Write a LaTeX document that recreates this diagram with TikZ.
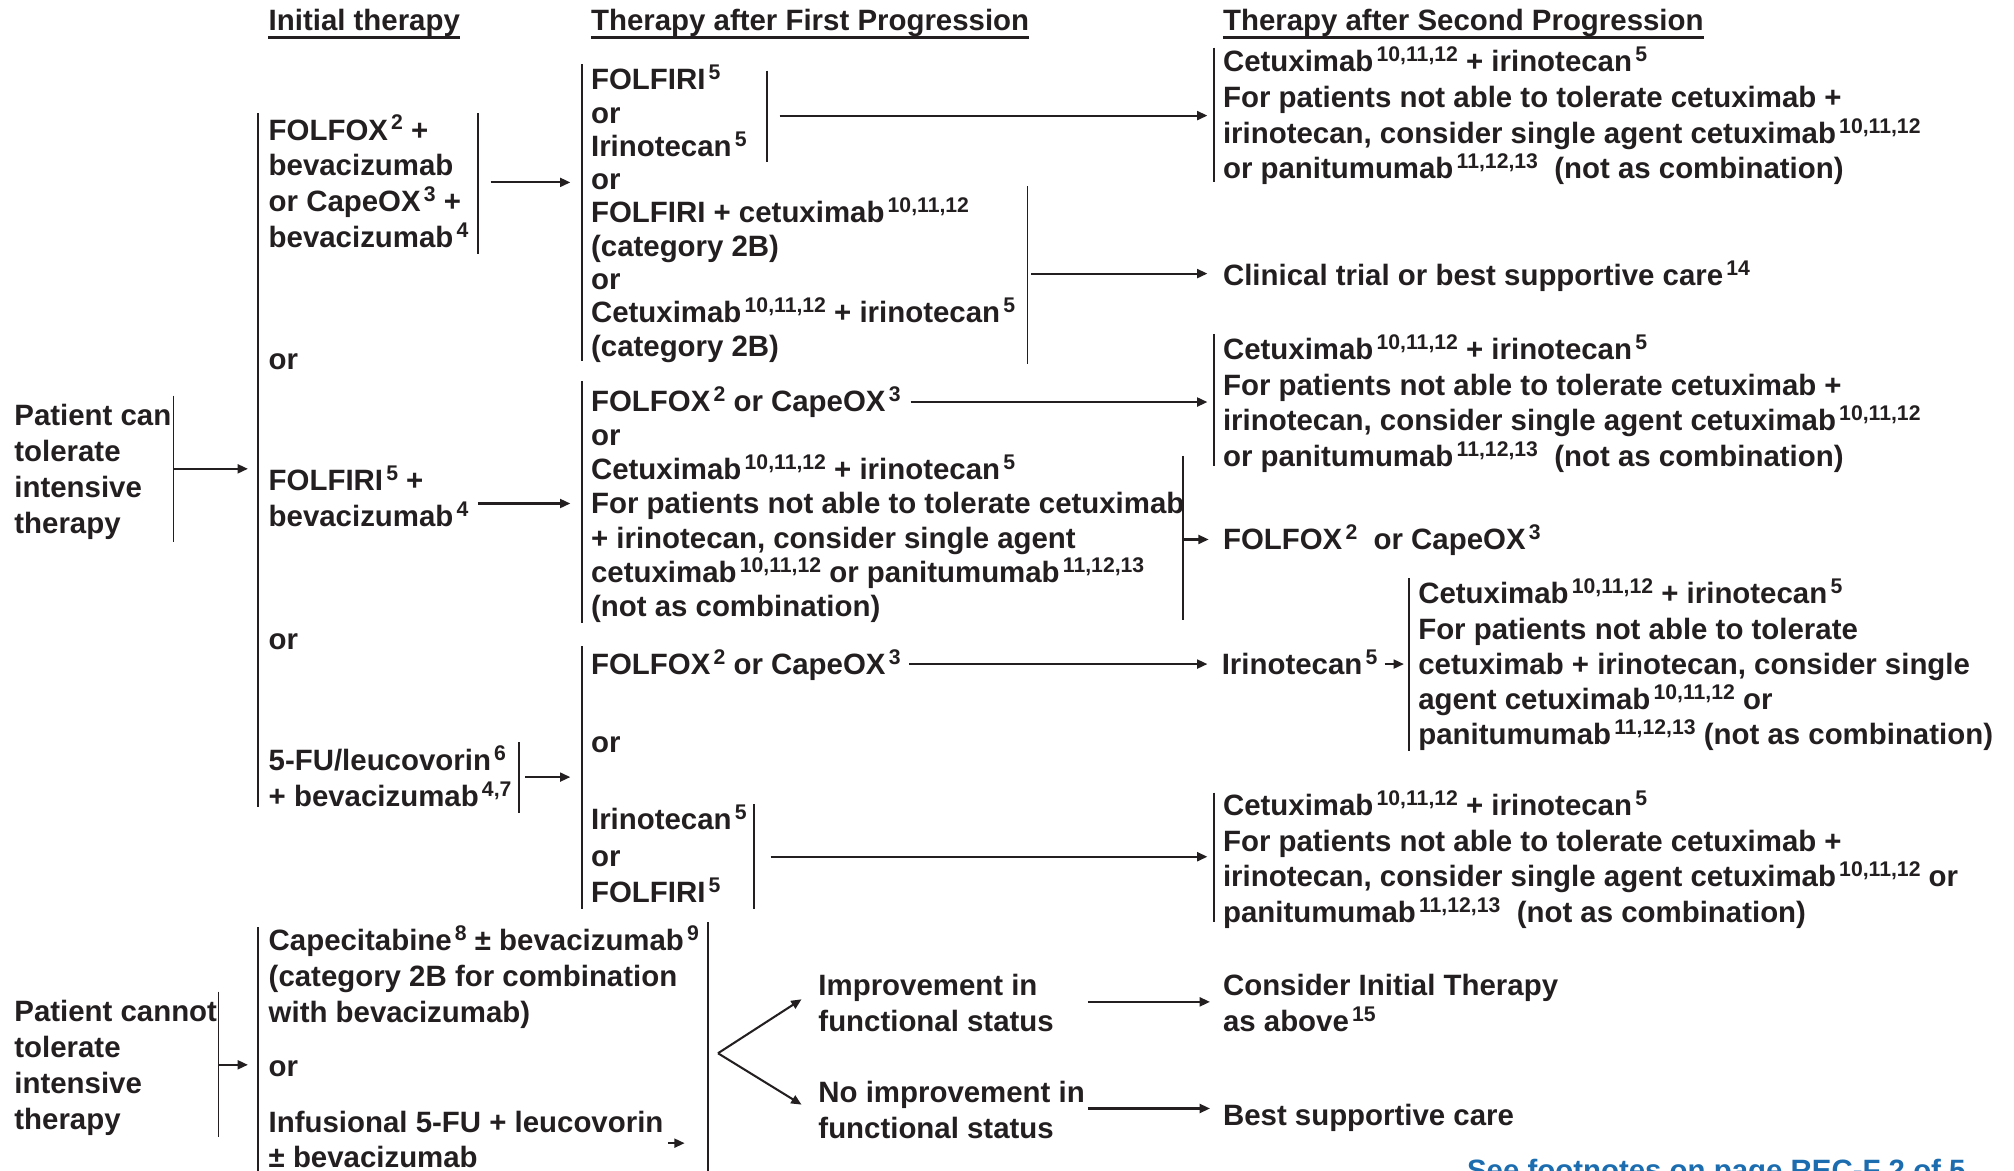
\documentclass[tikz,border=0pt]{standalone}
\usepackage{fontspec}
\setmainfont{Liberation Sans}
\usetikzlibrary{arrows.meta}
\definecolor{ink}{HTML}{231F20}
\definecolor{linkblue}{HTML}{1C6DB0}
% footnote reference numbers
\newcommand{\fn}[1]{\hspace{2.5pt}\raisebox{7.8pt}{\fontsize{16.5}{16.5}\selectfont #1}}
% multi-line nodes are placed by the baseline of their last line
\tikzset{
  txt/.style={anchor=base west, inner sep=0pt, align=left, text=ink,
              font=\bfseries\fontsize{22.9}{28}\selectfont},
  sk/.style={font=\bfseries\fontsize{22.9}{#1}\selectfont},
  bar/.style={draw=ink, line width=1.3pt},
  uline/.style={draw=ink, line width=1.6pt},
  arr/.style={draw=ink, line width=1.6pt, -{Triangle[length=8pt,width=7pt]}},
}
\begin{document}
\begin{tikzpicture}[x=1pt,y=-1pt]
\useasboundingbox (0,0) rectangle (1568,911);

% column headings
\node[txt] (h1) at (209,24) {Initial therapy};
\node[txt] (h2) at (460,24) {Therapy after First Progression};
\node[txt] (h3) at (952,24) {Therapy after Second Progression};
\foreach \h in {h1,h2,h3}
  \draw[uline] ([yshift=-5.2pt]\h.base west) -- ([yshift=-5.2pt]\h.base east);

% patient groups
\node[txt] (can) at (11,415) {Patient can\\tolerate\\intensive\\therapy};
\node[txt] (cannot) at (11,879) {Patient cannot\\tolerate\\intensive\\therapy};

% initial therapy
\node[txt] (i1) at (209,193) {FOLFOX\fn{2} +\\bevacizumab\\or CapeOX\fn{3} +\\bevacizumab\fn{4}};
\node[txt] (or1) at (209,288) {or};
\node[txt] (i2) at (209,410) {FOLFIRI\fn{5} +\\bevacizumab\fn{4}};
\node[txt] (or2) at (209,506) {or};
\node[txt] (i3) at (209,628) {5-FU/leucovorin\fn{6}\\+ bevacizumab\fn{4,7}};

\node[txt] (c1) at (209,796) {Capecitabine\fn{8} ± bevacizumab\fn{9}\\(category 2B for combination\\with bevacizumab)};
\node[txt] (or4) at (209,838) {or};
\node[txt,sk=27] (c2) at (209,909) {Infusional 5-FU + leucovorin\\± bevacizumab};

% therapy after first progression
\node[txt,sk=25.9] (p1) at (460,277.2) {FOLFIRI\fn{5}\\or\\Irinotecan\fn{5}\\or\\FOLFIRI + cetuximab\fn{10,11,12}\\(category 2B)\\or\\Cetuximab\fn{10,11,12} + irinotecan\fn{5}\\(category 2B)};
\node[txt,sk=26.7] (p2) at (460,480.2) {FOLFOX\fn{2} or CapeOX\fn{3}\\or\\Cetuximab\fn{10,11,12} + irinotecan\fn{5}\\For patients not able to tolerate cetuximab\\+ irinotecan, consider single agent\\cetuximab\fn{10,11,12} or panitumumab\fn{11,12,13}\\(not as combination)};
\node[txt] (p3) at (460,525) {FOLFOX\fn{2} or CapeOX\fn{3}};
\node[txt] (or3) at (460,586) {or};
\node[txt,sk=28.5] (p4) at (460,703) {Irinotecan\fn{5}\\or\\FOLFIRI\fn{5}};

\node[txt] (imp) at (637,803) {Improvement in\\functional status};
\node[txt] (noimp) at (637,886) {No improvement in\\functional status};

% therapy after second progression
\node[txt,sk=27.7] (s1) at (952,139.1) {Cetuximab\fn{10,11,12} + irinotecan\fn{5}\\For patients not able to tolerate cetuximab +\\irinotecan, consider single agent cetuximab\fn{10,11,12}\\or panitumumab\fn{11,12,13}\ \ (not as combination)};
\node[txt] (s2) at (952,222) {Clinical trial or best supportive care\fn{14}};
\node[txt,sk=27.7] (s3) at (952,363.1) {Cetuximab\fn{10,11,12} + irinotecan\fn{5}\\For patients not able to tolerate cetuximab +\\irinotecan, consider single agent cetuximab\fn{10,11,12}\\or panitumumab\fn{11,12,13}\ \ (not as combination)};
\node[txt] (s4) at (952,428) {FOLFOX\fn{2}\ \ or CapeOX\fn{3}};
\node[txt] (s5) at (951,525) {Irinotecan\fn{5}};
\node[txt,sk=27.5] (s6) at (1104,580) {Cetuximab\fn{10,11,12} + irinotecan\fn{5}\\For patients not able to tolerate\\cetuximab + irinotecan, consider single\\agent cetuximab\fn{10,11,12} or\\panitumumab\fn{11,12,13} (not as combination)};
\node[txt,sk=27.7] (s7) at (952,718.1) {Cetuximab\fn{10,11,12} + irinotecan\fn{5}\\For patients not able to tolerate cetuximab +\\irinotecan, consider single agent cetuximab\fn{10,11,12} or\\panitumumab\fn{11,12,13}\ \ (not as combination)};

\node[txt] (cons) at (952,803) {Consider Initial Therapy\\as above\fn{15}};
\node[txt] (bsc) at (952,876) {Best supportive care};

\node[txt,text=linkblue] (foot) at (1142,919) {See footnotes on page REC-F 2 of 5};

% bracket bars
\draw[bar] (135,308) -- (135,422);
\draw[bar] (170,772) -- (170,885);
\draw[bar] (201,88) -- (201,628);
\draw[bar] (201,722) -- (201,915);
\draw[bar] (372,88) -- (372,198);
\draw[bar] (404,578) -- (404,633);
\draw[bar] (551,718) -- (551,915);
\draw[bar] (453,50) -- (453,281);
\draw[bar] (597,55) -- (597,126);
\draw[bar] (800,145) -- (800,283);
\draw[bar] (453,297) -- (453,485);
\draw[bar] (921,355) -- (921,483);
\draw[bar] (453,503) -- (453,708);
\draw[bar] (587,626) -- (587,708);
\draw[bar] (945,37) -- (945,142);
\draw[bar] (945,260) -- (945,363);
\draw[bar] (945,617) -- (945,718);
\draw[bar] (1097,450) -- (1097,585);

% connector end points
\coordinate (canR) at (135,365);   \coordinate (initL) at (193,365);
\coordinate (i1R) at (382,142);    \coordinate (p1L) at (444,142);
\coordinate (i2R) at (372,392);    \coordinate (p2L) at (444,392);
\coordinate (i3R) at (409,605);    \coordinate (p3L) at (444,605);
\coordinate (p1aR) at (607,90);    \coordinate (s1L) at (940,90);
\coordinate (p1bR) at (803,213);   \coordinate (s2L) at (940,213);
\coordinate (p2aR) at (709,313);   \coordinate (s3L) at (940,313);
\coordinate (p2bR) at (921,420);   \coordinate (s4L) at (941,420);
\coordinate (p3R) at (708,517);    \coordinate (s5L) at (940,517);
\coordinate (s5R) at (1078,517);   \coordinate (s6L) at (1093,517);
\coordinate (p4R) at (600,667);    \coordinate (s7L) at (940,667);
\coordinate (cannotR) at (170,829); \coordinate (c1L) at (193,829);
\coordinate (c2R) at (520,890);    \coordinate (c2E) at (533,890);
\coordinate (fork) at (559,820);
\coordinate (impL) at (624,778);   \coordinate (noimpL) at (624,860);
\coordinate (impR) at (847,780);   \coordinate (consL) at (942,780);
\coordinate (noimpR) at (847,863); \coordinate (bscL) at (942,863);

% connectors
\draw[arr] (canR) -- (initL);
\draw[arr] (i1R) -- (p1L);
\draw[arr] (i2R) -- (p2L);
\draw[arr] (i3R) -- (p3L);
\draw[arr] (p1aR) -- (s1L);
\draw[arr] (p1bR) -- (s2L);
\draw[arr] (p2aR) -- (s3L);
\draw[arr] (p2bR) -- (s4L);
\draw[arr] (p3R) -- (s5L);
\draw[arr] (s5R) -- (s6L);
\draw[arr] (p4R) -- (s7L);
\draw[arr] (cannotR) -- (c1L);
\draw[arr] (c2R) -- (c2E);
\draw[arr] (fork) -- (impL);
\draw[arr] (fork) -- (noimpL);
\draw[arr] (impR) -- (consL);
\draw[arr] (noimpR) -- (bscL);
\end{tikzpicture}
\end{document}
